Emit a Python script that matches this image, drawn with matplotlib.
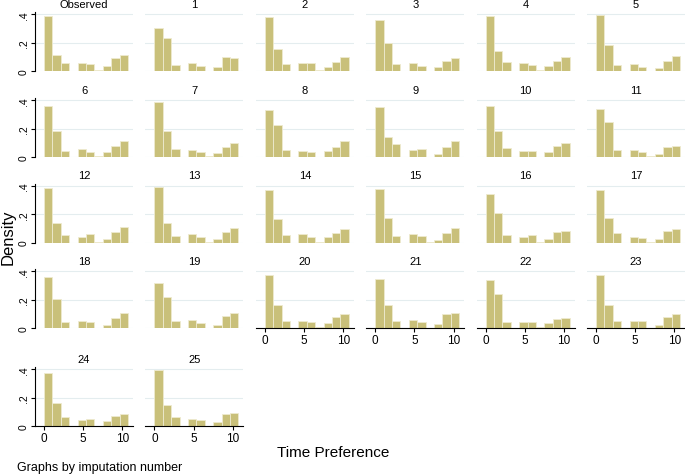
import matplotlib
matplotlib.use('Agg')
import matplotlib.pyplot as plt
import numpy as np

plt.rcParams['font.family'] = ['Liberation Sans', 'DejaVu Sans']

###### bin edges (10 bins of the time preference variable)
bin_edges = np.linspace(0, 10.7, 11)
x_ticks = [0, 5, 10]
y_ticks = [0, .2, .4]
y_tick_labels = ['0', '.2', '.4']

###### densities
observed = [0.386, 0.110, 0.056, 0, 0.056, 0.047, 0.009, 0.033, 0.092, 0.110]
imp_1 = [0.301, 0.231, 0.045, 0, 0.056, 0.038, 0.002, 0.026, 0.096, 0.092]
imp_2 = [0.384, 0.155, 0.049, 0, 0.056, 0.054, 0.009, 0.026, 0.064, 0.096]
imp_3 = [0.360, 0.195, 0.049, 0, 0.059, 0.038, 0.002, 0.026, 0.071, 0.092]
imp_4 = [0.386, 0.139, 0.061, 0, 0.054, 0.045, 0.005, 0.035, 0.073, 0.099]
imp_5 = [0.395, 0.184, 0.042, 0, 0.049, 0.026, 0.002, 0.019, 0.071, 0.104]
imp_6 = [0.363, 0.181, 0.042, 0, 0.058, 0.035, 0.005, 0.035, 0.079, 0.114]
imp_7 = [0.390, 0.181, 0.053, 0, 0.047, 0.037, 0.007, 0.026, 0.074, 0.102]
imp_8 = [0.333, 0.226, 0.047, 0, 0.042, 0.033, 0.002, 0.040, 0.072, 0.116]
imp_9 = [0.353, 0.144, 0.091, 0, 0.047, 0.053, 0.002, 0.023, 0.072, 0.116]
imp_10 = [0.363, 0.181, 0.060, 0, 0.044, 0.044, 0.002, 0.035, 0.077, 0.098]
imp_11 = [0.342, 0.247, 0.049, 0, 0.049, 0.037, 0.005, 0.023, 0.074, 0.081]
imp_12 = [0.386, 0.135, 0.056, 0, 0.042, 0.058, 0.002, 0.023, 0.074, 0.107]
imp_13 = [0.390, 0.135, 0.047, 0, 0.063, 0.042, 0.002, 0.028, 0.074, 0.102]
imp_14 = [0.372, 0.163, 0.051, 0, 0.058, 0.040, 0.002, 0.037, 0.070, 0.098]
imp_15 = [0.377, 0.174, 0.044, 0, 0.063, 0.044, 0.002, 0.021, 0.065, 0.105]
imp_16 = [0.340, 0.209, 0.056, 0, 0.042, 0.051, 0.002, 0.023, 0.074, 0.081]
imp_17 = [0.370, 0.170, 0.065, 0, 0.042, 0.033, 0.002, 0.028, 0.079, 0.098]
imp_18 = [0.360, 0.202, 0.040, 0, 0.051, 0.042, 0.002, 0.023, 0.070, 0.105]
imp_19 = [0.316, 0.221, 0.051, 0, 0.053, 0.037, 0.002, 0.023, 0.086, 0.107]
imp_20 = [0.377, 0.160, 0.049, 0, 0.051, 0.040, 0.005, 0.035, 0.079, 0.102]
imp_21 = [0.349, 0.163, 0.049, 0, 0.056, 0.042, 0.000, 0.026, 0.100, 0.107]
imp_22 = [0.342, 0.242, 0.044, 0, 0.044, 0.040, 0.005, 0.033, 0.067, 0.074]
imp_23 = [0.377, 0.160, 0.049, 0, 0.051, 0.049, 0.000, 0.023, 0.081, 0.102]
imp_24 = [0.375, 0.165, 0.060, 0, 0.045, 0.050, 0.002, 0.035, 0.070, 0.085]
imp_25 = [0.395, 0.145, 0.065, 0, 0.050, 0.040, 0.002, 0.030, 0.085, 0.095]

panel_titles = ['Observed'] + [str(i) for i in range(1, 26)]
panels = [observed, imp_1, imp_2, imp_3, imp_4, imp_5, imp_6, imp_7, imp_8,
          imp_9, imp_10, imp_11, imp_12, imp_13, imp_14, imp_15, imp_16,
          imp_17, imp_18, imp_19, imp_20, imp_21, imp_22, imp_23, imp_24,
          imp_25]

###### layout (pixels)
W, H = 685, 477
col_left = [35 + c * 110.4 for c in range(6)]
row_base = [72, 158, 243.5, 329, 427]
pw, ph = 98, 59
ncols = 6
n = len(panels)

bar_col = '#C9C07A'
grid_col = '#E4EDEF'

fig = plt.figure(figsize=(W / 100, H / 100), dpi=100)

for i, (title, dens) in enumerate(zip(panel_titles, panels)):
    r, c = divmod(i, ncols)
    left = col_left[c]
    base = row_base[r]
    ax = fig.add_axes([left / W, 1 - base / H, pw / W, ph / H])
    ax.bar(bin_edges[:-1], dens, width=np.diff(bin_edges), align='edge',
           color=bar_col, edgecolor='#EEEAD0', linewidth=0.6, zorder=2)
    ax.set_xlim(-1.15, 11.35)
    ax.set_ylim(0, 0.4 * ph / 56.7)
    for yv in y_ticks:
        ax.axhline(yv, color=grid_col, lw=0.8, zorder=1)
    for s in ax.spines.values():
        s.set_visible(False)

    # y axis only in first column
    if c == 0:
        ax.spines['left'].set_visible(True)
        ax.spines['left'].set_linewidth(0.8)
        ax.set_yticks(y_ticks)
        ax.set_yticklabels(y_tick_labels, rotation=90, va='center',
                           fontsize=7.5)
        ax.tick_params(axis='y', length=3, width=0.8, pad=1.5)
    else:
        ax.set_yticks([])

    # x axis only on the last panel of each column
    if i + ncols >= n:
        ax.spines['bottom'].set_visible(True)
        ax.spines['bottom'].set_linewidth(0.8)
        ax.set_xticks(x_ticks)
        ax.set_xticklabels([str(t) for t in x_ticks], fontsize=8.5)
        ax.tick_params(axis='x', length=3, width=0.8, pad=1.5)
    else:
        ax.set_xticks([])

    fig.text((left + pw / 2) / W, 1 - (base - 67) / H, title,
             ha='center', va='center', fontsize=8)

fig.text(8 / W, 1 - 237 / H, 'Density', rotation=90, ha='center',
         va='center', fontsize=12)
fig.text(333 / W, 1 - 453 / H, 'Time Preference', ha='center', va='center',
         fontsize=11)
fig.text(17 / W, 1 - 468 / H, 'Graphs by imputation number', ha='left',
         va='center', fontsize=9)

plt.savefig('out.png', dpi=100)
